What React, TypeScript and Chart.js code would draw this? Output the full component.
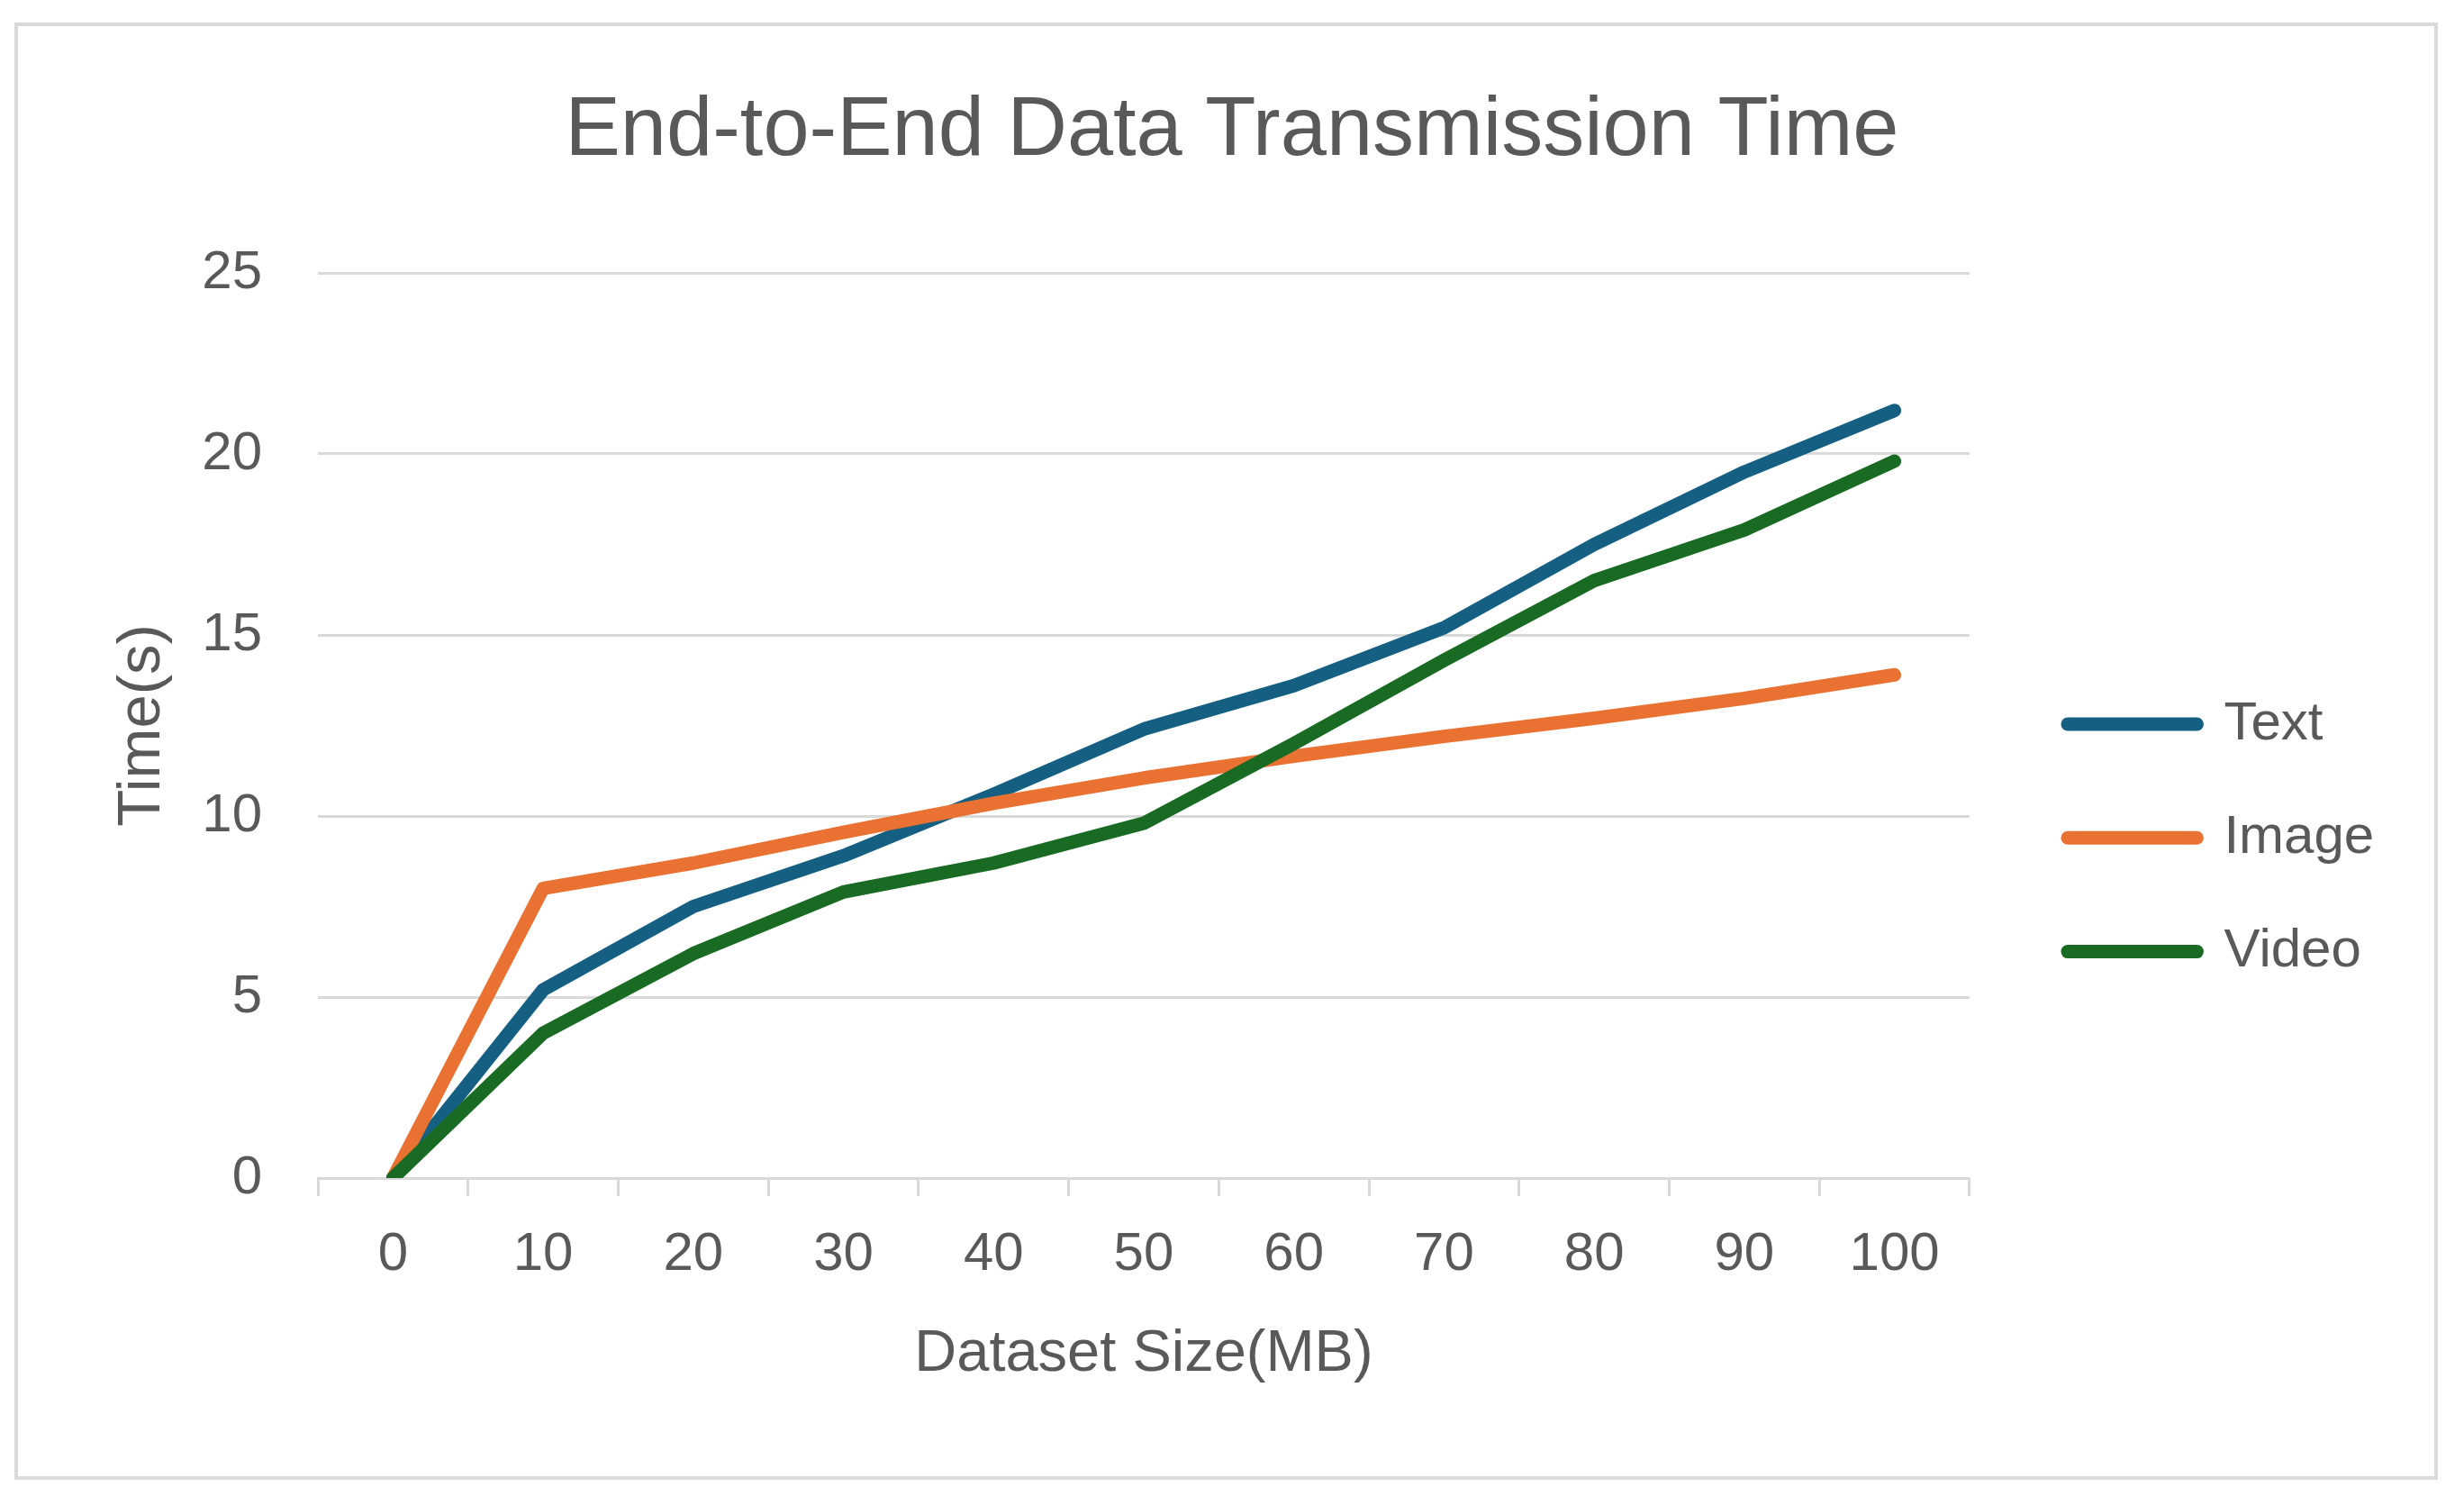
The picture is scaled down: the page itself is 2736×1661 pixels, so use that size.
import React, { useEffect, useRef } from 'react';
import { Chart, registerables } from 'chart.js';

Chart.register(...registerables);

// ---- data ----
const categories = ['0', '10', '20', '30', '40', '50', '60', '70', '80', '90', '100'];
const textTimes = [0, 5.2, 7.5, 8.9, 10.6, 12.4, 13.6, 15.2, 17.5, 19.5, 21.2];
const imageTimes = [0, 8.0, 8.7, 9.55, 10.35, 11.05, 11.65, 12.2, 12.7, 13.25, 13.9];
const videoTimes = [0, 4.0, 6.2, 7.9, 8.7, 9.8, 12.0, 14.3, 16.5, 17.9, 19.8];
const seriesNames = ['Text', 'Image', 'Video'];
const seriesColors = ['#156082', '#E97132', '#196B24'];
const yMin = 0;
const yMax = 25;
const yStep = 5;

const FONT = "'Liberation Sans', Arial, sans-serif";
const TEXT_COLOR = '#595959';
const GRID_COLOR = '#d9d9d9';

export default function App() {
  const canvasRef = useRef<HTMLCanvasElement | null>(null);

  useEffect(() => {
    document.body.style.margin = '0';
    document.body.style.background = '#ffffff';
    const canvas = canvasRef.current;
    if (!canvas) return;
    Chart.defaults.font.family = FONT;

    const seriesValues = [textTimes, imageTimes, videoTimes];
    const chart = new Chart(canvas, {
      type: 'line',
      data: {
        labels: categories,
        datasets: seriesNames.map((name, i) => ({
          label: name,
          data: seriesValues[i],
          borderColor: seriesColors[i],
          backgroundColor: seriesColors[i],
          borderWidth: 15,
          borderCapStyle: 'round',
          borderJoinStyle: 'round',
          pointRadius: 0,
          pointHoverRadius: 0,
          tension: 0,
          fill: false,
          order: 3 - i,
          xAxisID: 'x',
          yAxisID: 'y',
        })),
      },
      options: {
        animation: false,
        responsive: true,
        maintainAspectRatio: false,
        layout: { padding: 0 },
        plugins: {
          tooltip: { enabled: false },
          title: {
            display: true,
            text: 'End-to-End Data Transmission Time',
            color: TEXT_COLOR,
            font: { family: FONT, size: 92, weight: 'normal', lineHeight: 1.2 },
            padding: { top: 91.8, bottom: 100.8 },
          },
          legend: {
            position: 'right',
            maxWidth: 1000,
            title: {
              display: true,
              text: ' ',
              font: { size: 10, lineHeight: 1.2 },
              padding: { top: 187.6, bottom: 0 },
            },
            labels: {
              usePointStyle: true,
              pointStyle: 'line',
              pointStyleWidth: 143.5,
              padding: 66.3,
              color: TEXT_COLOR,
              font: { family: FONT, size: 60 },
              sort: (a: any, b: any) => a.datasetIndex - b.datasetIndex,
              generateLabels: (c: any) => {
                const items = (Chart.defaults.plugins.legend.labels as any).generateLabels(c);
                return items.map((it: any) => ({
                  ...it,
                  lineWidth: 15,
                  lineCap: 'round',
                  pointStyle: 'line',
                  strokeStyle: seriesColors[it.datasetIndex],
                  fillStyle: seriesColors[it.datasetIndex],
                }));
              },
            },
          },
        },
        scales: {
          x: {
            type: 'category',
            offset: true,
            grid: {
              offset: true,
              drawOnChartArea: false,
              drawTicks: true,
              tickLength: 20,
              color: GRID_COLOR,
              lineWidth: 3,
            },
            border: { display: true, color: GRID_COLOR, width: 3 },
            ticks: {
              padding: 29,
              color: TEXT_COLOR,
              font: { family: FONT, size: 60 },
              maxRotation: 0,
              autoSkip: false,
            },
            title: {
              display: true,
              text: 'Dataset Size(MB)',
              color: TEXT_COLOR,
              font: { family: FONT, size: 65 },
              padding: { top: 0, bottom: 118 },
            },
            afterFit: (s: any) => {
              s.height = 353;
            },
          },
          y: {
            position: 'left',
            min: yMin,
            max: yMax,
            ticks: {
              stepSize: yStep,
              padding: 62,
              color: TEXT_COLOR,
              font: { family: FONT, size: 60 },
            },
            grid: { color: GRID_COLOR, lineWidth: 3, drawTicks: false },
            border: { display: false },
            title: {
              display: true,
              text: 'Time(s)',
              color: TEXT_COLOR,
              font: { family: FONT, size: 67 },
              padding: { top: 118, bottom: 0 },
            },
            afterFit: (s: any) => {
              s.width = 353;
            },
          },
          yInner: {
            type: 'linear',
            position: 'right',
            display: true,
            grid: { display: false },
            ticks: { display: false },
            border: { display: false },
            afterFit: (s: any) => {
              s.width = 42.7;
            },
          },
          yOuter: {
            type: 'linear',
            position: 'right',
            weight: 2000,
            display: true,
            grid: { display: false },
            ticks: { display: false },
            border: { display: false },
            afterFit: (s: any) => {
              s.width = 89.8;
            },
          },
        },
      } as any,
    });

    return () => {
      chart.destroy();
    };
  }, []);

  return (
    <div style={{ position: 'relative', width: 2736, height: 1661, background: '#ffffff' }}>
      <div
        style={{
          position: 'absolute',
          left: 16,
          top: 25,
          width: 2691,
          height: 1618,
          border: '4px solid #dadada',
          boxSizing: 'border-box',
          pointerEvents: 'none',
        }}
      />
      <canvas ref={canvasRef} style={{ position: 'absolute', left: 0, top: 0 }} />
    </div>
  );
}
